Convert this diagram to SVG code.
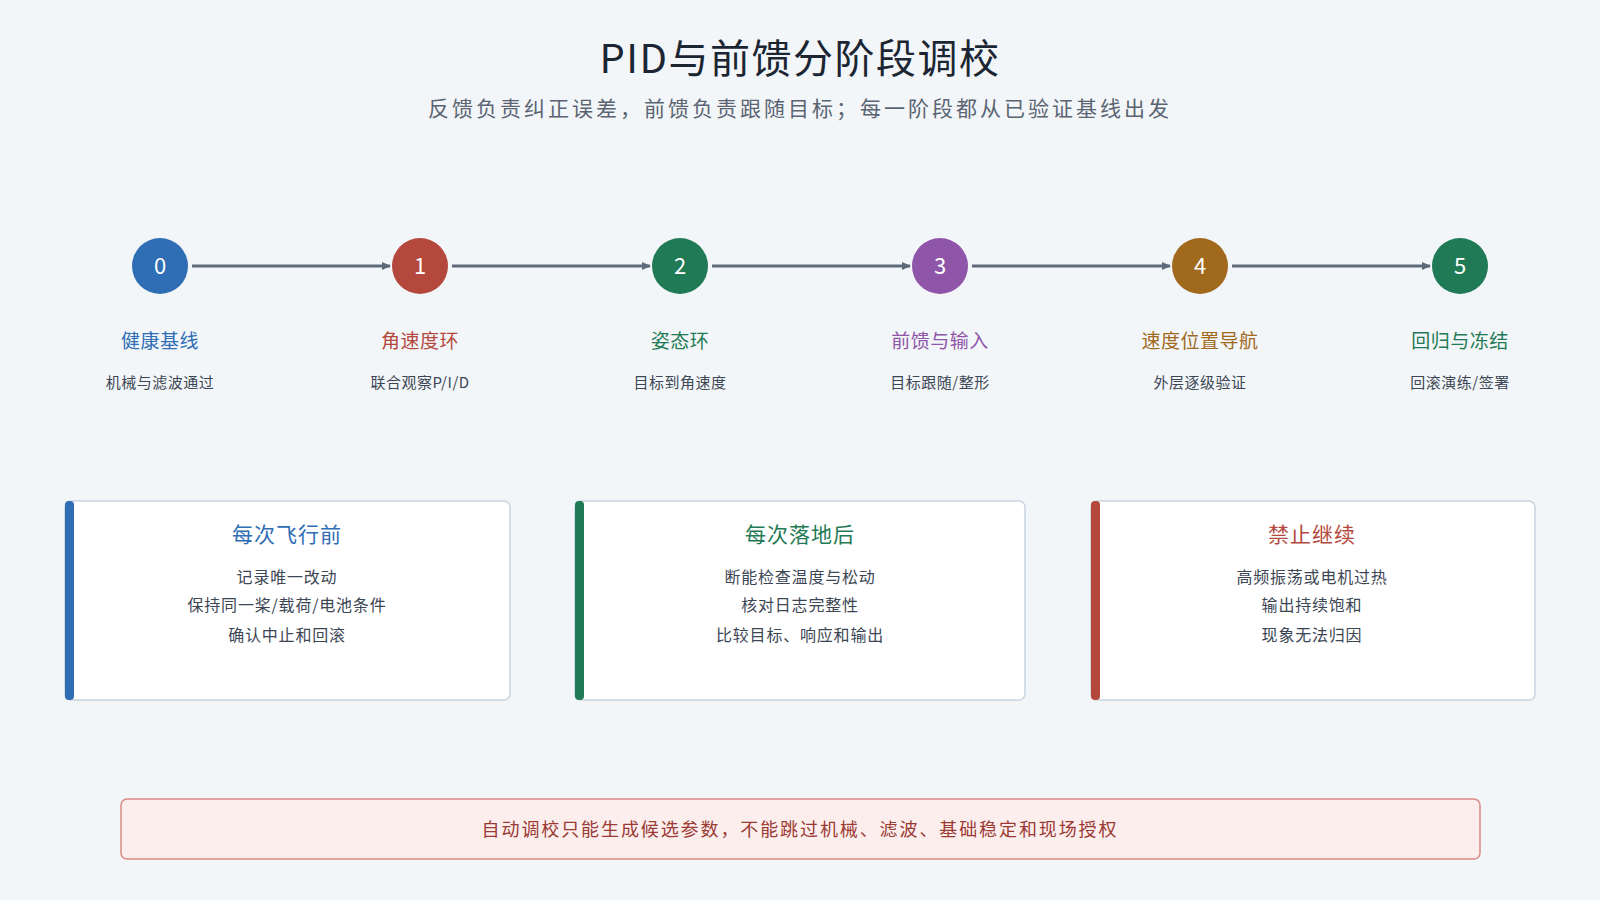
<svg xmlns="http://www.w3.org/2000/svg" width="1600" height="900" viewBox="0 0 1600 900">
<defs>
<style>
text{font-family:"Noto Sans CJK SC","Noto Sans",sans-serif;text-anchor:middle}
.t{font-size:40px;fill:#1c2633;font-weight:400;letter-spacing:1.5px}
.s{font-size:21px;fill:#5a6472;letter-spacing:3px}
.n{font-size:22px;fill:#fff}
.l{font-size:19px;letter-spacing:0.5px}
.d{font-size:15px;fill:#3c4654;letter-spacing:0.5px}
.ct{font-size:21px;letter-spacing:1px}
.cl{font-size:16px;fill:#3c4654;letter-spacing:0.8px}
.card{fill:#fff;stroke:#c9d3de;stroke-width:1.5}
.c{stroke:#5f6b7a;stroke-width:3;fill:none}
</style>
<marker id="a" markerWidth="10" markerHeight="10" refX="8" refY="5" orient="auto" markerUnits="userSpaceOnUse"><path d="M0,1 L9,5 L0,9 z" fill="#5f6b7a"/></marker>
</defs>
<rect width="1600" height="900" fill="#f3f6f9"/>
<text class="t" x="800" y="73">PID与前馈分阶段调校</text>
<text class="s" x="800" y="116">反馈负责纠正误差，前馈负责跟随目标；每一阶段都从已验证基线出发</text>
<g id="connectors">
<line class="c" x1="192" y1="266" x2="390" y2="266" marker-end="url(#a)"/>
<line class="c" x1="452" y1="266" x2="650" y2="266" marker-end="url(#a)"/>
<line class="c" x1="712" y1="266" x2="910" y2="266" marker-end="url(#a)"/>
<line class="c" x1="972" y1="266" x2="1170" y2="266" marker-end="url(#a)"/>
<line class="c" x1="1232" y1="266" x2="1430" y2="266" marker-end="url(#a)"/>
</g>
<g id="s0"><circle cx="160" cy="266" r="28" fill="#2f6db5"/><text class="n" x="160" y="274">0</text><text class="l" x="160" y="348" fill="#2f6db5">健康基线</text><text class="d" x="160" y="388">机械与滤波通过</text></g>
<g id="s1"><circle cx="420" cy="266" r="28" fill="#b5483c"/><text class="n" x="420" y="274">1</text><text class="l" x="420" y="348" fill="#b5483c">角速度环</text><text class="d" x="420" y="388">联合观察P/I/D</text></g>
<g id="s2"><circle cx="680" cy="266" r="28" fill="#1f7a55"/><text class="n" x="680" y="274">2</text><text class="l" x="680" y="348" fill="#1f7a55">姿态环</text><text class="d" x="680" y="388">目标到角速度</text></g>
<g id="s3"><circle cx="940" cy="266" r="28" fill="#8e55a8"/><text class="n" x="940" y="274">3</text><text class="l" x="940" y="348" fill="#8e55a8">前馈与输入</text><text class="d" x="940" y="388">目标跟随/整形</text></g>
<g id="s4"><circle cx="1200" cy="266" r="28" fill="#a0691b"/><text class="n" x="1200" y="274">4</text><text class="l" x="1200" y="348" fill="#a0691b">速度位置导航</text><text class="d" x="1200" y="388">外层逐级验证</text></g>
<g id="s5"><circle cx="1460" cy="266" r="28" fill="#1f7a55"/><text class="n" x="1460" y="274">5</text><text class="l" x="1460" y="348" fill="#1f7a55">回归与冻结</text><text class="d" x="1460" y="388">回滚演练/签署</text></g>
<g id="card1"><rect class="card" x="65" y="501" width="445" height="199" rx="6"/><rect x="65" y="501" width="9" height="199" rx="4" fill="#2f6db5"/><text class="ct" x="287" y="542" fill="#2f6db5">每次飞行前</text><text class="cl" x="287" y="583">记录唯一改动</text><text class="cl" x="287" y="611">保持同一桨/载荷/电池条件</text><text class="cl" x="287" y="641">确认中止和回滚</text></g>
<g id="card2"><rect class="card" x="575" y="501" width="450" height="199" rx="6"/><rect x="575" y="501" width="9" height="199" rx="4" fill="#1f7a55"/><text class="ct" x="800" y="542" fill="#1f7a55">每次落地后</text><text class="cl" x="800" y="583">断能检查温度与松动</text><text class="cl" x="800" y="611">核对日志完整性</text><text class="cl" x="800" y="641">比较目标、响应和输出</text></g>
<g id="card3"><rect class="card" x="1091" y="501" width="444" height="199" rx="6"/><rect x="1091" y="501" width="9" height="199" rx="4" fill="#b5483c"/><text class="ct" x="1312" y="542" fill="#b5483c">禁止继续</text><text class="cl" x="1312" y="583">高频振荡或电机过热</text><text class="cl" x="1312" y="611">输出持续饱和</text><text class="cl" x="1312" y="641">现象无法归因</text></g>
<g id="note"><rect x="121" y="799" width="1359" height="60" rx="6" fill="#fdeeee" stroke="#d98a84" stroke-width="1.5"/><text x="800" y="836" font-size="18" fill="#9a3a33" letter-spacing="1.9">自动调校只能生成候选参数，不能跳过机械、滤波、基础稳定和现场授权</text></g>
</svg>
